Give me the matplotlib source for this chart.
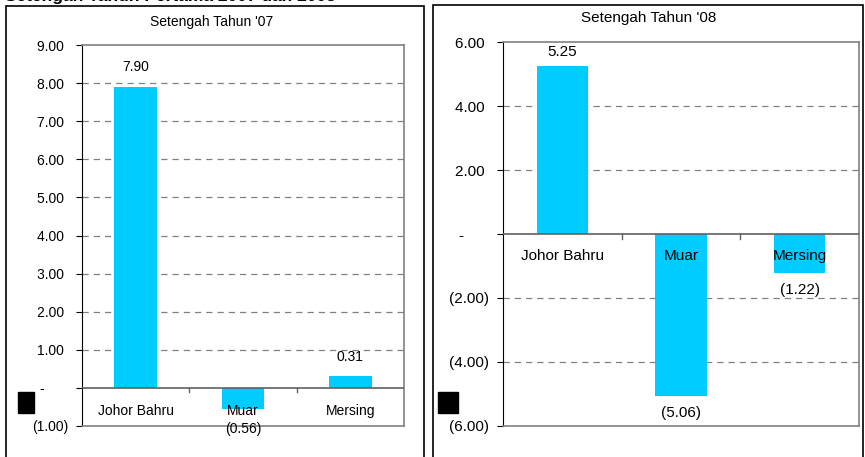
import matplotlib.pyplot as plt
from matplotlib.patches import Rectangle

plt.rcParams['font.family'] = ['Liberation Sans', 'DejaVu Sans']

regions = ['Johor Bahru', 'Muar', 'Mersing']
h1_07 = [7.90, -0.56, 0.31]
h1_08 = [5.25, -5.06, -1.22]
ticks_07 = [-1, 0, 1, 2, 3, 4, 5, 6, 7, 8, 9]
ticks_08 = [-6, -4, -2, 0, 2, 4, 6]

bar_col = '#00CCFF'
grid_col = '#808080'


def fmt(v):
    if abs(v) < 1e-9:
        return '-'
    if v < 0:
        return '(%.2f)' % abs(v)
    return '%.2f' % v


def tick_fmt(v):
    # accounting style: positives leave room for the closing bracket
    if abs(v) < 1e-9:
        return '-      '
    if v < 0:
        return '(%.2f)' % abs(v)
    return '%.2f ' % v


W, H = 865, 457
fig = plt.figure(figsize=(8.65, 4.57), dpi=100)


def px_axes(x0, x1, y0, y1):
    return fig.add_axes([x0 / W, 1 - y1 / H, (x1 - x0) / W, (y1 - y0) / H])


# panel frames
fig.add_artist(Rectangle((6 / W, -0.05), (424 - 6) / W, 1 - 6 / H + 0.05,
                         transform=fig.transFigure, fill=False, lw=1.2, ec='black'))
fig.add_artist(Rectangle((433 / W, -0.05), (863 - 433) / W, 1 - 5 / H + 0.05,
                         transform=fig.transFigure, fill=False, lw=1.2, ec='black'))

fig.text(5 / W, 1 - 1 / H, 'Setengah Tahun Pertama 2007 dan 2008', fontsize=12.5,
         fontweight='bold', va='baseline', ha='left')


def draw(ax, vals, ticks, title, fs, bw, lab_off, val_up, val_dn, pad, title_xy):
    x = range(len(vals))
    ax.bar(x, vals, width=bw, color=bar_col, zorder=2)
    ax.set_xlim(-0.5, len(vals) - 0.5)
    ax.set_ylim(ticks[0], ticks[-1])
    ax.set_yticks(ticks)
    ax.set_yticklabels([tick_fmt(t) for t in ticks], fontsize=fs)
    ax.set_xticks([])
    for t in ticks:
        if t != 0 and t != ticks[0] and t != ticks[-1]:
            ax.axhline(t, color=grid_col, lw=0.9, ls=(0, (5, 4)), zorder=1)
    ax.axhline(0, color='#606060', lw=1.2, zorder=3)
    for b in [0.5, 1.5]:
        ax.plot([b, b], [0, -(ticks[-1] - ticks[0]) * 0.012], color='#606060', lw=1, zorder=3)
    for s in ['top', 'right', 'bottom']:
        ax.spines[s].set_color(grid_col)
        ax.spines[s].set_linewidth(1.2)
    ax.spines['left'].set_color('black')
    ax.tick_params(axis='y', length=4, pad=pad, color='black')
    for i, v in enumerate(vals):
        ax.annotate(regions[i], (i, 0), xytext=(0, -lab_off), textcoords='offset points',
                    ha='center', va='center', fontsize=fs, zorder=4)
        if v >= 0:
            ax.annotate(fmt(v), (i, v), xytext=(0, val_up), textcoords='offset points',
                        ha='center', va='center', fontsize=fs, zorder=4)
        else:
            ax.annotate(fmt(v), (i, v), xytext=(0, -val_dn), textcoords='offset points',
                        ha='center', va='center', fontsize=fs, zorder=4)
    fig.text(title_xy[0] / W, 1 - title_xy[1] / H, title, ha='center', va='center',
             fontsize=fs)


ax1 = px_axes(82, 404, 45, 426)
draw(ax1, h1_07, ticks_07, "Setengah Tahun '07", 10, 0.4, 16.5, 14, 14.5, 6, (212, 22))

ax2 = px_axes(503, 859, 42, 426)
draw(ax2, h1_08, ticks_08, "Setengah Tahun '08", 11, 0.43, 16, 10, 12, 6, (649, 18))

# black marks on the left edges
fig.add_artist(Rectangle((18 / W, 1 - 413 / H), 16 / W, 21 / H,
                         transform=fig.transFigure, color='black'))
fig.add_artist(Rectangle((438 / W, 1 - 413 / H), 20 / W, 21 / H,
                         transform=fig.transFigure, color='black'))

fig.savefig('out.png', dpi=100)
